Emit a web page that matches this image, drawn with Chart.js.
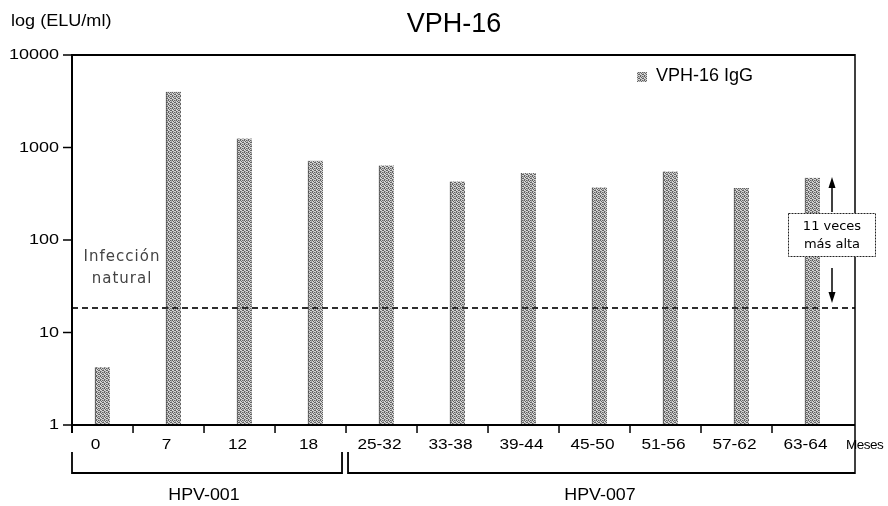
<!DOCTYPE html>
<html>
<head>
<meta charset="utf-8">
<script src="https://cdn.jsdelivr.net/npm/chart.js@4/dist/chart.umd.min.js"></script>
<style>
html,body{margin:0;padding:0;background:#fff;}
canvas{display:block;}
</style>
</head>
<body>
<canvas id="c" width="888" height="506"></canvas>
<script>
// ---- data ----
const categories = ['0','7','12','18','25-32','33-38','39-44','45-50','51-56','57-62','63-64'];
const igGValues = [4.2, 4000, 1250, 720, 640, 430, 530, 370, 550, 365, 470];
const yTickValues = [1, 10, 100, 1000, 10000];
const yTickLabels = ['1', '10', '100', '1000', '10000'];
const naturalInfectionLevel = [18.4];
const studyGroups = ['HPV-001', 'HPV-007'];
const studyGroupRanges = [[0, 3], [4, 10]];
const seriesName = 'VPH-16 IgG';
const titleText = 'VPH-16';
const yAxisTitle = 'log (ELU/ml)';
const xAxisUnit = 'Meses';
const naturalLabel = ['Infección', 'natural'];
const foldLabel = ['11 veces', 'más alta'];

// ---- stipple pattern ----
function makePattern(ctx) {
  const pc = document.createElement('canvas');
  pc.width = 4; pc.height = 4;
  const g = pc.getContext('2d');
  g.fillStyle = '#d4d4d4'; g.fillRect(0, 0, 4, 4);
  g.fillStyle = '#626262';
  [[0,0],[2,0],[1,1],[3,2],[0,3],[2,2]].forEach(p => g.fillRect(p[0], p[1], 1, 1));
  g.fillStyle = '#a0a0a0';
  [[3,0],[1,3],[3,1]].forEach(p => g.fillRect(p[0], p[1], 1, 1));
  return ctx.createPattern(pc, 'repeat');
}

const canvas = document.getElementById('c');
const ctx0 = canvas.getContext('2d');
const pattern = makePattern(ctx0);

function txt(ctx, s, x, y, font, align, sx, color, spacing) {
  ctx.save();
  ctx.translate(x, y);
  ctx.scale(sx, 1);
  ctx.font = font;
  ctx.textAlign = align;
  ctx.textBaseline = 'middle';
  ctx.fillStyle = color || '#000';
  if (spacing) ctx.letterSpacing = spacing + 'px';
  ctx.fillText(s, 0, 0);
  ctx.restore();
}
function line(ctx, x1, y1, x2, y2, w, color, dash) {
  ctx.save();
  ctx.beginPath();
  ctx.lineWidth = w;
  ctx.strokeStyle = color || '#000';
  if (dash) ctx.setLineDash(dash);
  ctx.moveTo(x1, y1); ctx.lineTo(x2, y2);
  ctx.stroke();
  ctx.restore();
}

const F = 'Liberation Sans, Arial, sans-serif';
const FD = 'DejaVu Sans, sans-serif';

const decor = {
  id: 'decor',
  beforeDraw(chart) {
    const c = chart.ctx;
    c.save(); c.fillStyle = '#fff'; c.fillRect(0, 0, chart.width, chart.height); c.restore();
  },
  afterDatasetsDraw(chart) {
    const c = chart.ctx;
    const xs = chart.scales.x, ys = chart.scales.y;
    const L = chart.chartArea.left, R = chart.chartArea.right;
    const T = chart.chartArea.top, B = chart.chartArea.bottom;

    // dashed natural infection line
    const yd = ys.getPixelForValue(naturalInfectionLevel[0]);
    line(c, L, yd, R, yd, 2, '#2e2e2e', [6, 4]);

    // frame
    line(c, L, T, R, T, 2, '#000');
    line(c, L, T - 1, L, B + 8, 2, '#000');
    line(c, L, B, R, B, 2, '#000');
    line(c, R, T - 1, R, 474, 1.5, '#000');

    // y ticks and labels
    yTickValues.forEach((v, i) => {
      const y = ys.getPixelForValue(v);
      line(c, L - 9, y, L, y, 1.5, '#000');
      txt(c, yTickLabels[i], L - 13, y, '15px ' + F, 'right', 1.2, '#000');
    });

    // x tick marks (category boundaries) and labels
    categories.forEach((cat, i) => {
      if (i < categories.length - 1) {
        const xb = xs.getPixelForValue(i + 0.43);
        line(c, xb, B, xb, B + 8, 1.5, '#000');
      }
      const xc = xs.getPixelForValue(i) - 7;
      txt(c, cat, xc, B + 20, '15px ' + F, 'center', 1.15, '#000');
    });
    txt(c, xAxisUnit, R - 9, B + 20, '13.5px ' + F, 'left', 1.0, '#000', -0.5);

    // study brackets
    const bTop = 452, bBot = 473;
    studyGroupRanges.forEach((rg, gi) => {
      const x1 = gi === 0 ? L : xs.getPixelForValue(rg[0] - 0.57) + 2;
      const x2 = gi === 0 ? xs.getPixelForValue(rg[1] + 0.43) - 4 : R;
      c.save();
      c.beginPath();
      c.lineWidth = 1.8; c.strokeStyle = '#000';
      c.moveTo(x1, bTop); c.lineTo(x1, bBot); c.lineTo(x2, bBot);
      if (gi === 0) c.lineTo(x2, bTop);
      c.stroke();
      c.restore();
      const xm = gi === 0 ? 204 : 600;
      txt(c, studyGroups[gi], xm, 495, '17px ' + F, 'center', 1.05, '#000');
    });

    // title and axis title
    txt(c, titleText, 454, 25, '27px ' + F, 'center', 1.0, '#000');
    txt(c, yAxisTitle, 11, 22, '16px ' + F, 'left', 1.13, '#000');

    // legend
    c.save();
    c.fillStyle = pattern; c.fillRect(637, 72, 10, 10);
    c.restore();
    txt(c, seriesName, 656, 76, '18px ' + F, 'left', 1.0, '#000');

    // natural infection label
    txt(c, naturalLabel[0], 122, 257, '15px ' + FD, 'center', 1.0, '#444', 1);
    txt(c, naturalLabel[1], 122, 279, '15px ' + FD, 'center', 1.0, '#444', 1);

    // fold box with arrows
    const ax = 832;
    line(c, ax, 212, ax, 186, 1.5, '#000');
    c.save(); c.fillStyle = '#000'; c.beginPath();
    c.moveTo(ax, 177); c.lineTo(ax - 3.5, 188); c.lineTo(ax + 3.5, 188); c.closePath(); c.fill(); c.restore();
    line(c, ax, 268, ax, 294, 1.5, '#000');
    c.save(); c.fillStyle = '#000'; c.beginPath();
    c.moveTo(ax, 303); c.lineTo(ax - 3.5, 292); c.lineTo(ax + 3.5, 292); c.closePath(); c.fill(); c.restore();
    c.save();
    c.fillStyle = '#fff'; c.fillRect(788, 213, 88, 44);
    c.lineWidth = 1; c.strokeStyle = '#222'; c.setLineDash([2, 1]);
    c.strokeRect(788.5, 213.5, 87, 43);
    c.restore();
    txt(c, foldLabel[0], 832, 227, '13px ' + FD, 'center', 1.0, '#000');
    txt(c, foldLabel[1], 832, 245, '13px ' + FD, 'center', 1.0, '#000');
  }
};

new Chart(canvas, {
  type: 'bar',
  data: {
    datasets: [{
      label: seriesName,
      data: igGValues.map((v, i) => ({ x: i, y: v })),
      backgroundColor: pattern,
      borderColor: '#4a4a4a',
      borderWidth: { left: 1, right: 0, top: 0, bottom: 0 },
      borderSkipped: false,
      barThickness: 15
    }]
  },
  options: {
    responsive: false,
    animation: false,
    devicePixelRatio: 1,
    layout: { padding: { left: 72, right: 33, top: 55, bottom: 81 } },
    plugins: { legend: { display: false }, tooltip: { enabled: false }, title: { display: false } },
    scales: {
      x: { type: 'linear', offset: false, min: -0.4296, max: 10.599, display: false },
      y: { type: 'logarithmic', min: 1, max: 10000, display: false }
    }
  },
  plugins: [decor]
});
</script>
</body>
</html>
